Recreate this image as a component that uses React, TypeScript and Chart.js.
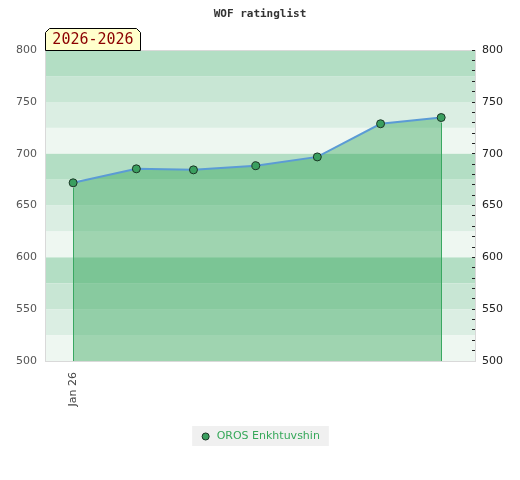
import React, { useEffect, useRef } from "react";
import { Chart, registerables } from "chart.js";

Chart.register(...registerables);

// ---- data ----
const titleText = "WOF ratinglist";
const rangeLabel = "2026-2026";
const seriesName = "OROS Enkhtuvshin";
// days since the first rating list (Jan 2026)
const xDays = [0, 7.2, 13.7, 20.8, 27.8, 35.0, 41.9];
const ratings = [672, 685.5, 684.5, 688.5, 697, 729, 735];
const xTickValues = [0];
const xTickLabels = ["Jan 26"];
const xMin = -3.2;
const xMax = 45.75;
const yMin = 500;
const yMax = 800;
const bandStep = 25;
const bandColors = ["#b3dec4", "#c8e6d4", "#dbeee3", "#eef7f1"];

const points = xDays.map((x, i) => ({ x, y: ratings[i] }));

const pointFill = "#3a9f5f";
const pointBorder = "#1c3526";
const lineColor = "#5b9bd5";
const areaColor = "rgba(40,160,80,0.4)";
const legendTextColor = "#36a85a";
const endLineColor = "#3aa862";

const bandsPlugin = {
  id: "bands",
  beforeDraw(chart: any) {
    const { ctx, chartArea } = chart;
    const y = chart.scales.y;
    ctx.save();
    let i = 0;
    for (let v = yMax; v > yMin; v -= bandStep, i++) {
      const top = y.getPixelForValue(v);
      const bottom = y.getPixelForValue(v - bandStep);
      ctx.fillStyle = bandColors[i % bandColors.length];
      ctx.fillRect(chartArea.left, top, chartArea.right - chartArea.left, bottom - top);
    }
    ctx.strokeStyle = "#d9d9d9";
    ctx.lineWidth = 1;
    ctx.beginPath();
    ctx.moveTo(chartArea.left, Math.round(chartArea.top) + 0.5);
    ctx.lineTo(chartArea.right, Math.round(chartArea.top) + 0.5);
    ctx.stroke();
    // legend background
    const boxes = chart.legend && chart.legend.legendHitBoxes;
    if (boxes && boxes.length) {
      const b = boxes[0];
      ctx.fillStyle = "#f0f0f0";
      ctx.fillRect(b.left - 8, b.top - 5, b.width + 17, b.height + 9);
    }
    ctx.restore();
  },
};

const endLinesPlugin = {
  id: "endLines",
  afterDatasetsDraw(chart: any) {
    const { ctx, chartArea } = chart;
    const meta = chart.getDatasetMeta(0);
    if (!meta || !meta.data.length) return;
    const ends = [meta.data[0], meta.data[meta.data.length - 1]];
    ctx.save();
    ctx.strokeStyle = endLineColor;
    ctx.lineWidth = 1;
    ctx.beginPath();
    for (const p of ends) {
      const x = Math.round(p.x) + 0.5;
      ctx.moveTo(x, p.y + 5);
      ctx.lineTo(x, chartArea.bottom);
    }
    ctx.stroke();
    ctx.restore();
  },
};

const rangeLabelPlugin = {
  id: "rangeLabel",
  afterDraw(chart: any) {
    const { ctx, chartArea } = chart;
    ctx.save();
    ctx.font = "15px 'DejaVu Sans Mono'";
    const tw = ctx.measureText(rangeLabel).width;
    const w = Math.round(tw + 14);
    const h = 22;
    const x0 = Math.round(chartArea.left) + 0.5;
    const y1 = Math.round(chartArea.top) + 0.5;
    const y0 = y1 - h;
    const c = 4;
    ctx.beginPath();
    ctx.moveTo(x0, y1);
    ctx.lineTo(x0, y0 + c);
    ctx.lineTo(x0 + c, y0);
    ctx.lineTo(x0 + w - c, y0);
    ctx.lineTo(x0 + w, y0 + c);
    ctx.lineTo(x0 + w, y1);
    ctx.closePath();
    ctx.fillStyle = "#ffffcc";
    ctx.fill();
    ctx.strokeStyle = "#000";
    ctx.lineWidth = 1;
    ctx.stroke();
    ctx.fillStyle = "#8b0000";
    ctx.textBaseline = "middle";
    ctx.textAlign = "center";
    ctx.fillText(rangeLabel, x0 + w / 2, y0 + h / 2 + 1);
    ctx.restore();
  },
};

export default function App() {
  const ref = useRef<HTMLCanvasElement | null>(null);

  useEffect(() => {
    document.body.style.margin = "0";
    const canvas = ref.current;
    if (!canvas) return;
    const chart = new Chart(canvas, {
      type: "line",
      data: {
        datasets: [
          {
            label: seriesName,
            data: points,
            borderColor: lineColor,
            borderWidth: 2,
            backgroundColor: areaColor,
            fill: "start",
            tension: 0,
            pointRadius: 4,
            pointHoverRadius: 4,
            pointBackgroundColor: pointFill,
            pointBorderColor: pointBorder,
            pointBorderWidth: 1,
          },
        ],
      },
      options: {
        animation: false,
        responsive: false,
        events: [],
        layout: { padding: { left: 0, right: 0, top: 0, bottom: 28 } },
        scales: {
          x: {
            type: "linear",
            min: xMin,
            max: xMax,
            afterBuildTicks: (scale: any) => {
              scale.ticks = xTickValues.map((v) => ({ value: v }));
            },
            afterFit: (scale: any) => {
              scale.height = 60;
            },
            grid: { display: false, tickLength: 8 },
            border: { display: true, color: "#d9d9d9" },
            ticks: {
              autoSkip: false,
              minRotation: 90,
              maxRotation: 90,
              padding: 3,
              color: "#444",
              font: { family: "'DejaVu Sans'", size: 11 },
              callback: (v: any) => {
                const i = xTickValues.indexOf(Number(v));
                return i >= 0 ? xTickLabels[i] : "";
              },
            },
          },
          y: {
            position: "left",
            min: yMin,
            max: yMax,
            afterFit: (scale: any) => {
              scale.width = 45;
            },
            grid: { display: false, drawTicks: false },
            border: { display: true, color: "#d9d9d9" },
            ticks: {
              stepSize: 50,
              padding: 8,
              color: "#555",
              font: { family: "'DejaVu Sans'", size: 11 },
            },
          },
          y2: {
            position: "right",
            min: yMin,
            max: yMax,
            afterFit: (scale: any) => {
              scale.width = 45;
            },
            grid: {
              display: true,
              drawOnChartArea: false,
              drawTicks: true,
              tickLength: -3,
              color: "#222",
            },
            border: { display: true, color: "#d9d9d9" },
            ticks: {
              stepSize: 10,
              autoSkip: false,
              padding: 10,
              color: "#222",
              font: { family: "'DejaVu Sans'", size: 11 },
              callback: (v: any) => (Number(v) % 50 === 0 ? String(v) : ""),
            },
          },
        },
        plugins: {
          title: {
            display: true,
            text: titleText,
            color: "#333",
            font: { family: "'DejaVu Sans Mono'", size: 11, weight: "bold" },
            padding: { top: 8, bottom: 29 },
          },
          legend: {
            display: true,
            position: "bottom",
            labels: {
              color: legendTextColor,
              font: { family: "'DejaVu Sans'", size: 11 },
              usePointStyle: true,
              pointStyle: "circle",
              boxWidth: 11,
              boxHeight: 5,
              padding: 10,
              generateLabels: (chart: any) => {
                const items = (Chart as any).defaults.plugins.legend.labels.generateLabels(chart);
                return items.map((it: any) => ({
                  ...it,
                  fillStyle: pointFill,
                  strokeStyle: pointBorder,
                  lineWidth: 1,
                  pointStyle: "circle",
                  fontColor: legendTextColor,
                }));
              },
            },
          },
          tooltip: { enabled: false },
        },
      },
      plugins: [bandsPlugin, endLinesPlugin, rangeLabelPlugin],
    } as any);
    return () => chart.destroy();
  }, []);

  return (
    <div style={{ position: "absolute", left: 0, top: 0, width: 520, height: 480 }}>
      <canvas ref={ref} width={520} height={480} style={{ display: "block" }} />
    </div>
  );
}
